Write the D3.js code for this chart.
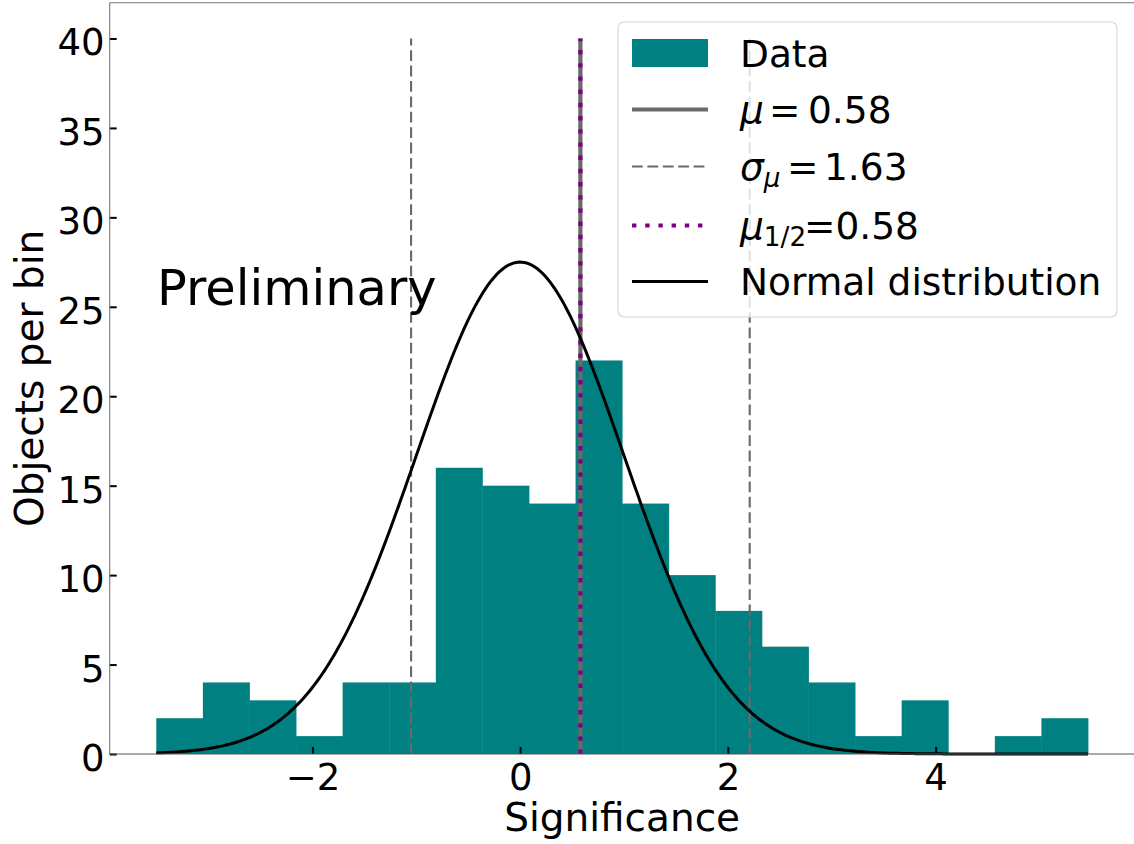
<!DOCTYPE html>
<html>
<head>
<meta charset="utf-8">
<script src="https://cdn.jsdelivr.net/npm/d3@7/dist/d3.min.js"></script>
<style>
  html, body { margin: 0; padding: 0; background: #fff; }
  svg { display: block; font-family: "DejaVu Sans", sans-serif; }
</style>
</head>
<body>
<svg id="chart" width="1134" height="844"></svg>
<script>
// ---- data ----
const binStart = -3.503;
const binEnd = 5.467;
const counts = [2, 4, 3, 1, 4, 4, 16, 15, 14, 22, 14, 10, 8, 6, 4, 1, 3, 0, 1, 2];
const meanValue = 0.58;
const sigmaValue = 1.63;
const medianValue = 0.58;
const vlineTop = 40;
const normalPeak = 27.5;
const normalMean = 0;
const normalSigma = 1;
const xTicks = [-2, 0, 2, 4];
const yTicks = [0, 5, 10, 15, 20, 25, 30, 35, 40];
const xDomain = [-3.9515, 5.9155];
const yDomain = [0, 42];
const legendLabels = ["Data", "mu", "sigma", "median", "Normal distribution"];

// ---- layout ----
const svg = d3.select("#chart");
const L = 109.7, R = 1134.6, T = 2.7, B = 754;
const x = d3.scaleLinear().domain(xDomain).range([L, R]);
const y = d3.scaleLinear().domain(yDomain).range([B, T]);

const teal = "#008080", gray = "#696969", purple = "#800080";

// histogram bars
const nb = counts.length;
const bw = (binEnd - binStart) / nb;
const bins = counts.map((c, i) => ({ x0: binStart + i * bw, x1: binStart + (i + 1) * bw, c }));
svg.append("g").selectAll("rect").data(bins.filter(d => d.c > 0)).join("rect")
  .attr("x", d => x(d.x0))
  .attr("width", d => x(d.x1) - x(d.x0) + 0.4)
  .attr("y", d => y(d.c))
  .attr("height", d => y(0) - y(d.c))
  .attr("fill", teal);

// vertical lines (drawn bottom to top)
const vg = svg.append("g");
vg.append("line").attr("x1", x(meanValue)).attr("x2", x(meanValue))
  .attr("y1", y(0)).attr("y2", y(vlineTop))
  .attr("stroke", gray).attr("stroke-width", 4.2);
[meanValue - sigmaValue, meanValue + sigmaValue].forEach(v => {
  vg.append("line").attr("x1", x(v)).attr("x2", x(v))
    .attr("y1", y(0)).attr("y2", y(vlineTop))
    .attr("stroke", gray).attr("stroke-width", 2.1)
    .attr("stroke-dasharray", "10.8,4.6");
});
vg.append("line").attr("x1", x(medianValue)).attr("x2", x(medianValue))
  .attr("y1", y(0)).attr("y2", y(vlineTop))
  .attr("stroke", purple).attr("stroke-width", 4.2)
  .attr("stroke-dasharray", "4.4,8.8");

// normal curve
const nSamples = 400;
const curve = d3.range(nSamples + 1).map(i => {
  const xv = binStart + (binEnd - binStart) * i / nSamples;
  return [xv, normalPeak * Math.exp(-0.5 * Math.pow((xv - normalMean) / normalSigma, 2))];
});
svg.append("path").datum(curve)
  .attr("d", d3.line().x(d => x(d[0])).y(d => y(d[1])))
  .attr("fill", "none").attr("stroke", "#000").attr("stroke-width", 3);

// axes
const tickFont = 37;
const ya = svg.append("g").attr("transform", `translate(${L},0)`)
  .call(d3.axisLeft(y).tickValues(yTicks).tickSizeInner(-7).tickSizeOuter(0).tickPadding(5.2));
ya.select(".domain").remove();
ya.selectAll(".tick line").attr("stroke", "#000").attr("stroke-width", 2);
ya.selectAll(".tick text").attr("font-size", tickFont).attr("fill", "#000")
  .attr("font-family", "DejaVu Sans").attr("dy", "0.445em");

const xa = svg.append("g").attr("transform", `translate(0,${B})`)
  .call(d3.axisBottom(x).tickValues(xTicks).tickSizeInner(-7).tickSizeOuter(0)
    .tickFormat(d => (d < 0 ? "\u2212" : "") + Math.abs(d)));
xa.select(".domain").remove();
xa.selectAll(".tick line").attr("stroke", "#000").attr("stroke-width", 2);
xa.selectAll(".tick text").attr("font-size", tickFont).attr("fill", "#000")
  .attr("font-family", "DejaVu Sans").attr("y", 36).attr("dy", 0);

// spines
const sp = svg.append("g").attr("stroke", "#777").attr("stroke-width", 1.1).attr("fill", "none");
sp.append("line").attr("x1", L).attr("x2", L).attr("y1", T).attr("y2", B);
sp.append("line").attr("x1", L).attr("x2", R).attr("y1", T).attr("y2", T);
sp.append("line").attr("x1", L).attr("x2", R).attr("y1", B).attr("y2", B).attr("stroke", "#555");
sp.append("line").attr("x1", R).attr("x2", R).attr("y1", T).attr("y2", B);

// axis labels
svg.append("text").attr("x", (L + R) / 2).attr("y", 831).attr("text-anchor", "middle")
  .attr("font-size", 39).text("Significance");
svg.append("text").attr("transform", `translate(43,${(T + B) / 2}) rotate(-90)`)
  .attr("text-anchor", "middle").attr("font-size", 39).text("Objects per bin");

// Preliminary
svg.append("text").attr("x", 157).attr("y", 305).attr("font-size", 49.5).text("Preliminary");

// legend
const lg = svg.append("g");
lg.append("rect").attr("x", 618).attr("y", 22).attr("width", 499).attr("height", 295)
  .attr("rx", 6).attr("fill", "#fff").attr("fill-opacity", 0.8)
  .attr("stroke", "#d6d6d6").attr("stroke-width", 1.1);
const rows = [53, 109.5, 166.5, 225.5, 281.5];
const hx0 = 632, hx1 = 708, tx = 740, lf = 37.5;
lg.append("rect").attr("x", hx0).attr("y", rows[0] - 14).attr("width", hx1 - hx0).attr("height", 28).attr("fill", teal);
lg.append("line").attr("x1", hx0).attr("x2", hx1).attr("y1", rows[1]).attr("y2", rows[1])
  .attr("stroke", gray).attr("stroke-width", 4.2);
lg.append("line").attr("x1", hx0).attr("x2", hx1).attr("y1", rows[2]).attr("y2", rows[2])
  .attr("stroke", gray).attr("stroke-width", 2.1).attr("stroke-dasharray", "10.8,4.6");
lg.append("line").attr("x1", hx0).attr("x2", hx1).attr("y1", rows[3]).attr("y2", rows[3])
  .attr("stroke", purple).attr("stroke-width", 4.2).attr("stroke-dasharray", "4.4,8.8");
lg.append("line").attr("x1", hx0).attr("x2", hx1).attr("y1", rows[4]).attr("y2", rows[4])
  .attr("stroke", "#000").attr("stroke-width", 3);

const base = r => r + 13.7;
// Data
lg.append("text").attr("x", tx).attr("y", base(rows[0])).attr("font-size", lf).text(legendLabels[0]);
// mu = 0.58
let t = lg.append("text").attr("x", tx).attr("y", base(rows[1])).attr("font-size", lf);
t.append("tspan").attr("font-style", "italic").text("\u03bc");
t.append("tspan").attr("x", 769).text("=");
t.append("tspan").attr("x", 808).text(meanValue.toFixed(2));
// sigma_mu = 1.63
t = lg.append("text").attr("x", tx).attr("y", base(rows[2])).attr("font-size", lf);
t.append("tspan").attr("font-style", "italic").text("\u03c3");
t.append("tspan").attr("font-style", "italic").attr("font-size", lf * 0.7).attr("dy", 7).text("\u03bc");
t.append("tspan").attr("x", 787).attr("dy", -7).text("=");
t.append("tspan").attr("x", 824).text(sigmaValue.toFixed(2));
// mu_1/2 = 0.58
t = lg.append("text").attr("x", tx).attr("y", base(rows[3])).attr("font-size", lf);
t.append("tspan").attr("font-style", "italic").text("\u03bc");
t.append("tspan").attr("font-size", lf * 0.7).attr("dy", 7).text("1/2");
t.append("tspan").attr("x", 804).attr("dy", -7).text("=" + medianValue.toFixed(2));
// Normal distribution
lg.append("text").attr("x", tx).attr("y", base(rows[4])).attr("font-size", lf).text(legendLabels[4]);
</script>
</body>
</html>
